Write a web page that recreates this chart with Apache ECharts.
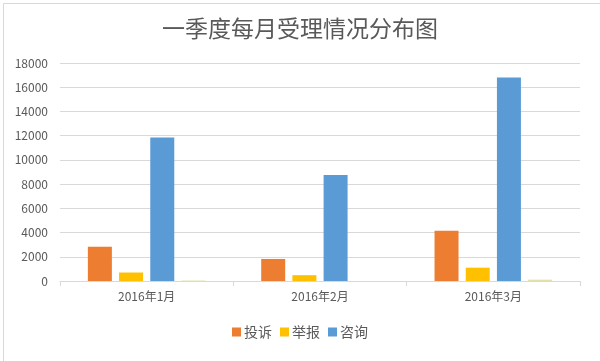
<!DOCTYPE html>
<html><head><meta charset="utf-8">
<script src="https://cdn.jsdelivr.net/npm/echarts@6/dist/echarts.min.js"></script>
<style>html,body{margin:0;padding:0;background:#fff}#c{width:600px;height:361px}</style>
</head><body><div id="c"></div>
<script>
const categories = ['2016年1月', '2016年2月', '2016年3月'];
const complaints = [2830, 1820, 4150];   // 投诉
const reports = [700, 480, 1100];        // 举报
const consults = [11850, 8750, 16800];   // 咨询
const other = [40, 0, 110];              // 未列图例
const yTicks = [0, 2000, 4000, 6000, 8000, 10000, 12000, 14000, 16000, 18000];

const font = '"Noto Sans CJK SC", "Microsoft YaHei", sans-serif';
const chart = echarts.init(document.getElementById('c'));
chart.setOption({
  animation: false,
  backgroundColor: '#fff',
  title: {
    text: '一季度每月受理情况分布图', left: 'center', top: 12,
    textStyle: { fontSize: 23, fontWeight: 'normal', color: '#595959', fontFamily: font }
  },
  legend: {
    data: ['投诉', '举报', '咨询'], bottom: 17, left: 'center',
    itemWidth: 9, itemHeight: 9, itemGap: 8, icon: 'rect',
    textStyle: { fontSize: 14, color: '#595959', fontFamily: font, padding: [0, 0, 0, -2] }
  },
  grid: { left: 60, right: 20, top: 63, bottom: 80 },
  xAxis: {
    type: 'category', data: categories,
    axisLine: { lineStyle: { color: '#d9d9d9' } },
    axisTick: { show: true, length: 5, lineStyle: { color: '#d9d9d9' } },
    axisLabel: { color: '#595959', fontSize: 12, fontFamily: font, margin: 9 }
  },
  yAxis: {
    type: 'value', min: yTicks[0], max: yTicks[yTicks.length - 1], interval: yTicks[1] - yTicks[0],
    axisLine: { show: false }, axisTick: { show: false },
    axisLabel: { color: '#595959', fontSize: 12, fontFamily: font, margin: 12, formatter: v => String(v) },
    splitLine: { lineStyle: { color: '#d9d9d9' } }
  },
  series: [
    { name: '投诉', type: 'bar', data: complaints, barWidth: 24, barGap: '30%', itemStyle: { color: '#ed7d31' } },
    { name: '举报', type: 'bar', data: reports, barWidth: 24, barGap: '30%', itemStyle: { color: '#ffc000' } },
    { name: '咨询', type: 'bar', data: consults, barWidth: 24, barGap: '30%', itemStyle: { color: '#5b9bd5' } },
    { name: '其他', type: 'bar', data: other, barWidth: 24, barGap: '30%', itemStyle: { color: '#e2e2a8' } }
  ],
  graphic: [{
    type: 'rect', left: 1, top: 1, shape: { width: 597, height: 358 },
    style: { fill: 'none', stroke: '#d9d9d9', lineWidth: 1 }, silent: true
  }]
});
</script></body></html>
